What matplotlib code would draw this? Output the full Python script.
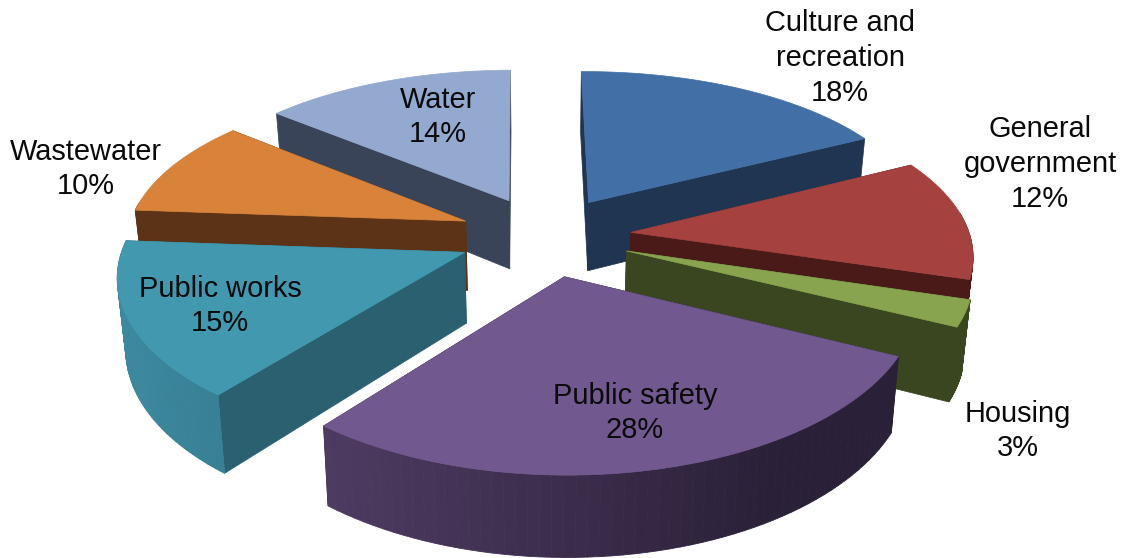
import matplotlib
matplotlib.use('Agg')
import matplotlib.pyplot as plt
from matplotlib.colors import to_rgb
import numpy as np

plt.rcParams['font.family'] = ['Liberation Sans', 'DejaVu Sans']

# Data (labels show these rounded)
categories = ['Culture and\nrecreation', 'General\ngovernment', 'Housing', 'Public safety',
              'Public works', 'Wastewater', 'Water']
shares = [17.6, 12.2, 2.6, 28.49, 15.4, 9.9, 13.81]

top_colors = ['#4270A6', '#A5423F', '#88A44E', '#71588F', '#4198AF', '#D8823A', '#93A9CF']
face_colors = ['#1F3552', '#4A1A18', '#39461F', '#2A2038', '#2A6070', '#5C3316', '#3A4458']
wall_colors = ['#2D5078', '#6E2C2A', '#39461F', '#5A4470', '#3C8AA0', '#5C3316', '#6A7A96']
label_pos = [(840, 58), (1040, 164), (1018, 431), (635, 413), (220, 306), (86, 169), (438, 117)]

# projection settings
CX, CY = 545, 236
RX, RY = 339, 158
PERSP_X, PERSP_Y = 0.124, 0.14
DEPTH = 70
EXPLODE = 0.255
START = np.radians(-0.5)

fig = plt.figure(figsize=(11.28, 5.58), dpi=100)
ax = fig.add_axes([0, 0, 1, 1])
ax.set_xlim(0, 1128)
ax.set_ylim(558, 0)
ax.axis('off')


def project(x, y, z=0.0):
    # x to the right, y towards the back, z is height below the top
    sx = 1 / (1 + PERSP_X * y)
    sy = 1 / (1 + PERSP_Y * y)
    return CX + RX * x * sx * (1 - 0.02 * z), CY - RY * y * sy + DEPTH * z * (1 / (1 + 0.12 * y))


def shade(color, other, f):
    a, b = np.array(to_rgb(color)), np.array(to_rgb(other))
    return tuple(a + (b - a) * f)


edges = START + np.cumsum([0] + shares) / sum(shares) * 2 * np.pi
slices = []
for i in range(len(shares)):
    mid = (edges[i] + edges[i + 1]) / 2
    slices.append((np.cos(mid), i, mid))

# back slices first
for _, i, mid in sorted(slices, reverse=True):
    ox, oy = EXPLODE * np.sin(mid), EXPLODE * np.cos(mid)
    t = np.linspace(edges[i], edges[i + 1], 60)
    x = ox + np.sin(t)
    y = oy + np.cos(t)

    # radial cut faces
    for xe, ye in ((x[0], y[0]), (x[-1], y[-1])):
        pts = [project(ox, oy), project(xe, ye), project(xe, ye, 1), project(ox, oy, 1)]
        ax.fill(*zip(*pts), color=face_colors[i], lw=0.5)

    # outer wall, strip by strip, skip those facing away
    for j in range(len(t) - 1):
        if np.cos((t[j] + t[j + 1]) / 2) > 0.12:
            continue
        pts = [project(x[j], y[j]), project(x[j + 1], y[j + 1]),
               project(x[j + 1], y[j + 1], 1), project(x[j], y[j], 1)]
        f = min(1, 1.3 * (np.sin((t[j] + t[j + 1]) / 2) + 1) / 2)
        ax.fill(*zip(*pts), color=shade(wall_colors[i], face_colors[i], f), lw=0.6)

    # top surface
    tx, ty = project(np.r_[ox, x], np.r_[oy, y])
    ax.fill(tx, ty, color=top_colors[i], lw=0.5)

for name, share, (lx, ly) in zip(categories, shares, label_pos):
    ax.text(lx, ly, f'{name}\n{share:.0f}%', ha='center', va='center', fontsize=20.9, color='#0a0a0a',
            linespacing=1.3)

fig.savefig('out.png', dpi=100)
